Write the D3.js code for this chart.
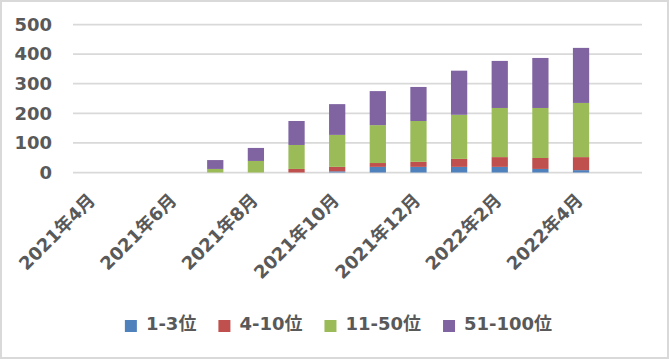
<!DOCTYPE html>
<html><head><meta charset="utf-8">
<script src="https://cdn.jsdelivr.net/npm/d3@7"></script>
<style>
html,body{margin:0;padding:0;background:#fff;}
svg{display:block;}
text{font-family:"DejaVu Sans","Noto Sans CJK JP",sans-serif;font-weight:bold;fill:#595959;}
</style></head>
<body>
<svg id="c" width="669" height="359"></svg>
<script>
const categories = ["2021年4月","2021年5月","2021年6月","2021年7月","2021年8月","2021年9月","2021年10月","2021年11月","2021年12月","2022年1月","2022年2月","2022年3月","2022年4月","2022年5月"];
const tickLabels = ["2021年4月","2021年6月","2021年8月","2021年10月","2021年12月","2022年2月","2022年4月"];
const seriesNames = ["1-3位","4-10位","11-50位","51-100位"];
const rank1to3   = [0,0,0,0,0,0,4,19,19,19,19,12,8,0];
const rank4to10  = [0,0,0,0,0,12,15,13,17,27,33,37,44,0];
const rank11to50 = [0,0,0,12,39,81,108,128,138,149,166,169,183,0];
const rank51to100= [0,0,0,30,44,81,104,115,115,149,159,169,186,0];
const yTicks = [0,100,200,300,400,500];
const colors = ["#4F81BD","#C0504D","#9BBB59","#8064A2"];

const svg = d3.select("#c");
svg.append("rect").attr("x",1).attr("y",1).attr("width",667).attr("height",357)
  .attr("fill","#fff").attr("stroke","#D9D9D9").attr("stroke-width",2);

const x = d3.scaleBand().domain(categories).range([73,642]).paddingInner(0.6).paddingOuter(0.3);
const y = d3.scaleLinear().domain([0,500]).range([172.5,24.5]);

// gridlines
svg.append("g").selectAll("line").data(yTicks).join("line")
  .attr("x1",73).attr("x2",642).attr("y1",d=>y(d)).attr("y2",d=>y(d))
  .attr("stroke","#D9D9D9").attr("stroke-width",1.75);

// y axis labels
const yAxis = svg.append("g").attr("transform","translate(60,0)")
  .call(d3.axisLeft(y).tickValues(yTicks).tickSize(0).tickPadding(8));
yAxis.select(".domain").remove();
yAxis.selectAll("text").attr("font-size",18).attr("font-family",null);

// stacked bars
const rows = categories.map((c,i)=>({cat:c, s0:rank1to3[i], s1:rank4to10[i], s2:rank11to50[i], s3:rank51to100[i]}));
const stack = d3.stack().keys(["s0","s1","s2","s3"])(rows);
svg.append("g").selectAll("g").data(stack).join("g").attr("fill",(d,i)=>colors[i])
  .selectAll("rect").data(d=>d).join("rect")
  .attr("x",d=>x(d.data.cat)).attr("width",x.bandwidth())
  .attr("y",d=>y(d[1])).attr("height",d=>Math.max(0,y(d[0])-y(d[1])));

// x axis labels
const xAxis = svg.append("g").attr("transform","translate(0,172.5)")
  .call(d3.axisBottom(x).tickValues(tickLabels).tickSize(0));
xAxis.select(".domain").remove();
xAxis.selectAll("text").attr("font-size",18).attr("font-family",null)
  .attr("text-anchor","end").attr("y",0).attr("dy",0)
  .attr("transform","translate(3,29) rotate(-45)");

// legend
const lg = svg.append("g");
let cx = 0;
seriesNames.forEach((n,i)=>{
  const g = lg.append("g");
  g.append("rect").attr("x",0).attr("y",320).attr("width",12).attr("height",12).attr("fill",colors[i]);
  const t = g.append("text").attr("x",21).attr("y",329.5).attr("font-size",18).text(n);
  const w = 21 + t.node().getComputedTextLength();
  g.attr("transform",`translate(${cx},0)`);
  cx += w + 22;
});
const total = cx - 22;
lg.attr("transform",`translate(${338.5 - total/2},0)`);
</script>
</body></html>
